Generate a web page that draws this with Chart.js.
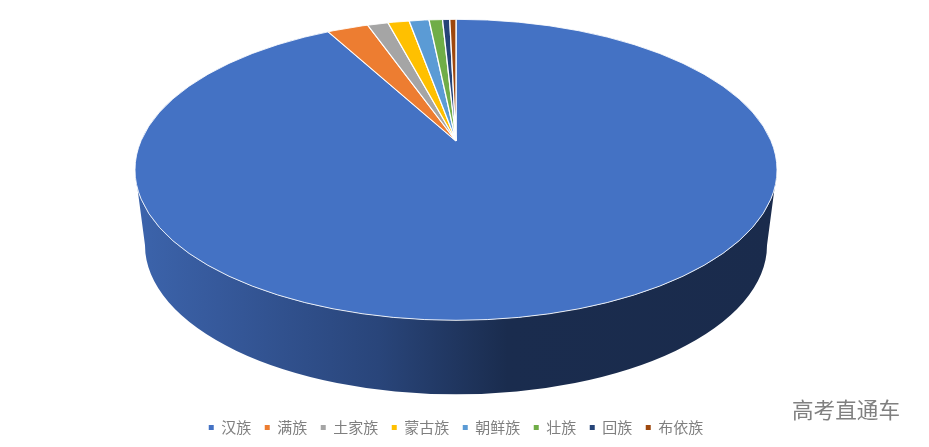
<!DOCTYPE html>
<html>
<head>
<meta charset="utf-8">
<script src="https://cdn.jsdelivr.net/npm/chart.js@4"></script>
<style>
  body { margin: 0; background: #fff; }
  #box { position: relative; width: 929px; height: 447px; }
  #mark { position: absolute; left: 792px; top: 393px; font: 21.6px "Noto Sans CJK SC"; color: #808080; white-space: nowrap; }
</style>
</head>
<body>
<div id="box">
  <canvas id="myChart"></canvas>
  <div id="mark">高考直通车</div>
</div>
<script>
const categories = ['汉族', '满族', '土家族', '蒙古族', '朝鲜族', '壮族', '回族', '布依族'];
const shares = [93.36, 2.17, 1.06, 1.08, 1.0, 0.67, 0.36, 0.31];
const colors = ['#4472c4', '#ed7d31', '#a5a5a5', '#ffc000', '#5b9bd5', '#70ad47', '#264478', '#9e480e'];

// the library draws a round pie, this bends it into the perspective ellipse:
// the slices meet above the middle of the ellipse, so back and front get their own scale
const stretch = 321 / 150.5;
const apexUp = 28.5;
const depth = 75.5;

function project(ctx, arc, front) {
    const { x, y, outerRadius: r } = arc;
    const rx = r * stretch;
    const apexY = Math.round(y - apexUp);
    const reach = front ? y + r - apexY : apexY - y + r;
    const grow = front ? 1.05 : 1.01;

    ctx.beginPath();
    ctx.ellipse(x, y, rx, r, 0, 0, Math.PI * 2);
    ctx.clip();
    ctx.beginPath();
    ctx.rect(x - rx, front ? apexY : y - r, rx * 2, reach);
    ctx.clip();

    ctx.translate(x, apexY);
    ctx.scale(stretch * grow, reach / r * grow);
    ctx.translate(-x, -y);
}

const tiltedPie = {
    id: 'tiltedPie',
    beforeDatasetsDraw(chart) {
        const arc = chart.getDatasetMeta(0).data[0];
        const { x, y, outerRadius: r } = arc;
        const rx = r * stretch;
        const ctx = chart.ctx;

        const wall = ctx.createLinearGradient(x - rx, 0, x + rx, 0);
        wall.addColorStop(0, '#3c64ac');
        wall.addColorStop(0.13, '#36599b');
        wall.addColorStop(0.38, '#29457a');
        wall.addColorStop(0.58, '#1a2c4e');
        wall.addColorStop(1, '#1a2b4c');

        ctx.save();
        ctx.beginPath();
        ctx.ellipse(x, y, rx, r, 0, 0, Math.PI);
        ctx.ellipse(x, y + depth, rx - 10, r - 1.5, 0, Math.PI, 0, true);
        ctx.closePath();
        ctx.fillStyle = wall;
        ctx.fill();
        ctx.restore();

        ctx.save();
        project(ctx, arc, false);
    },
    afterDatasetsDraw(chart) {
        const meta = chart.getDatasetMeta(0);
        const arc = meta.data[0];
        const ctx = chart.ctx;
        ctx.restore();

        // second pass for the part in front of the apex
        ctx.save();
        project(ctx, arc, true);
        meta.data.forEach(el => el.draw(ctx));
        ctx.restore();

        ctx.save();
        ctx.beginPath();
        ctx.ellipse(arc.x, arc.y, arc.outerRadius * stretch, arc.outerRadius, 0, 0, Math.PI * 2);
        ctx.strokeStyle = 'rgba(255,255,255,0.85)';
        ctx.lineWidth = 1;
        ctx.stroke();
        ctx.restore();
    }
};

new Chart(document.getElementById('myChart'), {
    type: 'pie',
    data: {
        labels: categories,
        datasets: [{
            data: shares,
            backgroundColor: colors,
            borderColor: '#fff',
            borderWidth: 0.6
        }]
    },
    options: {
        animation: false,
        responsive: true,
        maintainAspectRatio: false,
        layout: { padding: { top: 19, right: 17, bottom: 2 } },
        plugins: {
            tooltip: { enabled: false },
            legend: {
                position: 'bottom',
                // empty title only pushes the legend row down below the wall
                title: { display: true, text: '', padding: { top: 71.5 } },
                labels: {
                    boxWidth: 5,
                    boxHeight: 5,
                    padding: 13.5,
                    color: '#7f7f7f',
                    font: { family: '"Noto Sans CJK SC"', size: 15 },
                    generateLabels(chart) {
                        return Chart.overrides.pie.plugins.legend.labels.generateLabels(chart)
                            .map(item => ({ ...item, lineWidth: 0 }));
                    }
                }
            }
        }
    },
    plugins: [tiltedPie]
});
</script>
</body>
</html>
